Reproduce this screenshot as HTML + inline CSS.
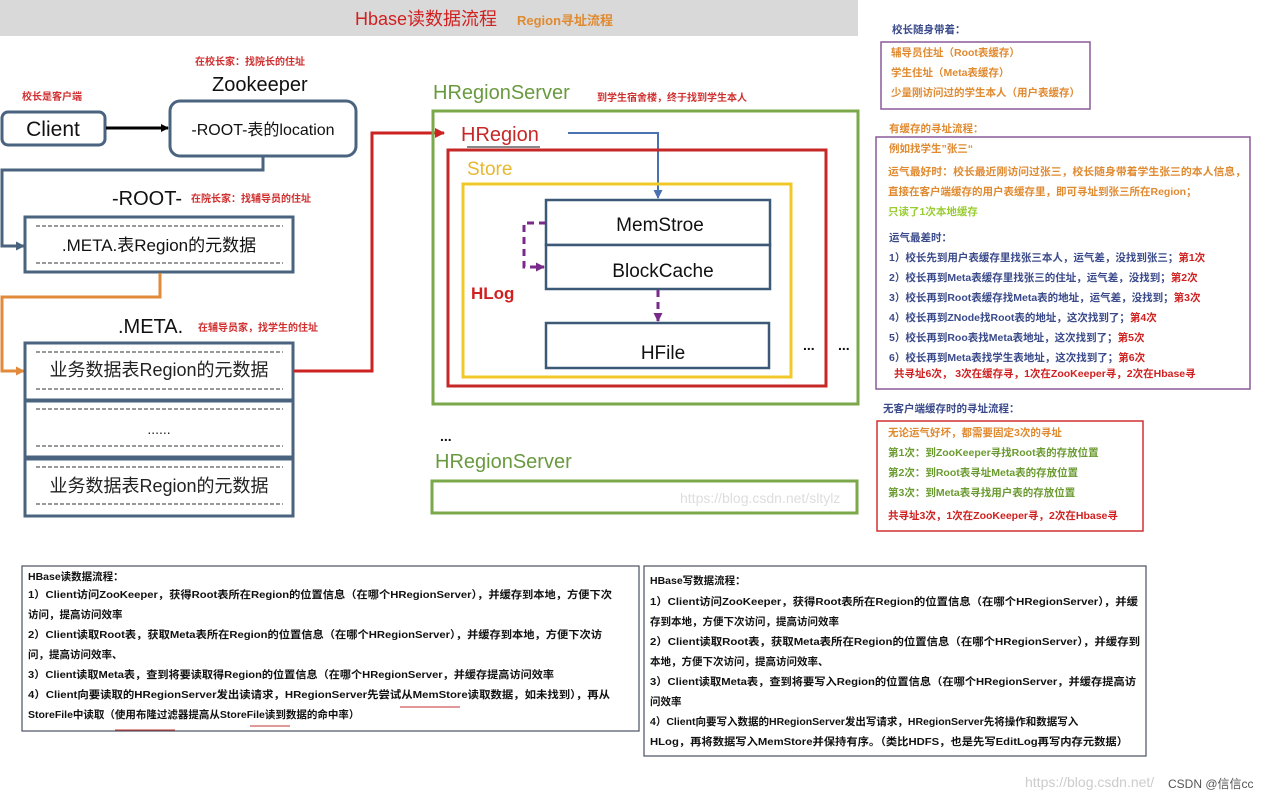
<!DOCTYPE html>
<html><head><meta charset="utf-8"><style>
html,body{margin:0;padding:0;background:#fff;}
svg{display:block;}
text{font-family:"Liberation Sans","Noto Sans CJK SC",sans-serif;}
.cj{font-family:"Liberation Sans","Noto Sans CJK SC",sans-serif;font-weight:bold;}
.big{font-family:"Liberation Sans","Noto Sans CJK SC",sans-serif;}
</style></head><body>
<svg width="1277" height="800" viewBox="0 0 1277 800" xmlns="http://www.w3.org/2000/svg">
<defs>
<marker id="ab" markerWidth="8" markerHeight="8" refX="7" refY="4" orient="auto" markerUnits="userSpaceOnUse"><path d="M0,0 L8,4 L0,8z" fill="#000"/></marker>
<marker id="ag" markerWidth="9" markerHeight="9" refX="8" refY="4.5" orient="auto" markerUnits="userSpaceOnUse"><path d="M0,0 L9,4.5 L0,9z" fill="#4a6480"/></marker>
<marker id="ao" markerWidth="9" markerHeight="9" refX="8" refY="4.5" orient="auto" markerUnits="userSpaceOnUse"><path d="M0,0 L9,4.5 L0,9z" fill="#e08a3a"/></marker>
<marker id="ar" markerWidth="10" markerHeight="10" refX="9" refY="5" orient="auto" markerUnits="userSpaceOnUse"><path d="M0,0 L10,5 L0,10z" fill="#cc2222"/></marker>
<marker id="abl" markerWidth="9" markerHeight="9" refX="8" refY="4.5" orient="auto" markerUnits="userSpaceOnUse"><path d="M0,0 L9,4.5 L0,9z" fill="#4a72b0"/></marker>
<marker id="ap" markerWidth="9" markerHeight="9" refX="8" refY="4.5" orient="auto" markerUnits="userSpaceOnUse"><path d="M0,0 L9,4.5 L0,9z" fill="#7a2a8a"/></marker>
</defs>

<!-- title bar -->
<rect x="0" y="0" width="858" height="36" fill="#d9d9d9"/>
<text x="355" y="25" font-size="18" fill="#d02020" class="big">Hbase读数据流程</text>
<text x="517" y="25" font-size="13" fill="#e08a30" class="cj">Region寻址流程</text>

<!-- left diagram -->
<text x="22" y="100" font-size="10" fill="#d03030" class="cj">校长是客户端</text>
<text x="195" y="65" font-size="10" fill="#d03030" class="cj">在校长家：找院长的住址</text>
<text x="212" y="91" font-size="20" fill="#111">Zookeeper</text>
<rect x="2" y="112" width="103" height="33" rx="6" fill="#fff" stroke="#4a6480" stroke-width="3"/>
<text x="53" y="136" font-size="21" fill="#111" text-anchor="middle">Client</text>
<rect x="170" y="101" width="186" height="55" rx="10" fill="#fff" stroke="#4a6480" stroke-width="3"/>
<text x="263" y="135" font-size="16" fill="#111" text-anchor="middle">-ROOT-表的location</text>
<line x1="106" y1="128" x2="168" y2="128" stroke="#000" stroke-width="3" marker-end="url(#ab)"/>
<polyline points="263,157 263,170 2,170 2,246 24,246" fill="none" stroke="#4a6480" stroke-width="3" marker-end="url(#ag)"/>

<text x="112" y="205" font-size="20" fill="#111">-ROOT-</text>
<text x="191" y="202" font-size="10" fill="#d03030" class="cj">在院长家：找辅导员的住址</text>
<rect x="25" y="217" width="268" height="55" fill="#fff" stroke="#4a6480" stroke-width="3"/>
<line x1="36" y1="226" x2="283" y2="226" stroke="#333" stroke-dasharray="4,2"/>
<line x1="36" y1="263" x2="283" y2="263" stroke="#333" stroke-dasharray="4,2"/>
<text x="159" y="251" font-size="17" fill="#111" text-anchor="middle">.META.表Region的元数据</text>
<polyline points="160,273 160,297 2,297 2,371 24,371" fill="none" stroke="#e08a3a" stroke-width="3" marker-end="url(#ao)"/>

<text x="118" y="333" font-size="20" fill="#111">.META.</text>
<text x="198" y="331" font-size="10" fill="#d03030" class="cj">在辅导员家，找学生的住址</text>
<rect x="25" y="343" width="268" height="57" fill="#fff" stroke="#4a6480" stroke-width="3"/>
<rect x="25" y="401" width="268" height="56" fill="#fff" stroke="#4a6480" stroke-width="3"/>
<rect x="25" y="459" width="268" height="57" fill="#fff" stroke="#4a6480" stroke-width="3"/>
<g stroke="#333" stroke-dasharray="4,2">
<line x1="36" y1="352" x2="283" y2="352"/><line x1="36" y1="389" x2="283" y2="389"/>
<line x1="36" y1="409" x2="283" y2="409"/><line x1="36" y1="446" x2="283" y2="446"/>
<line x1="36" y1="467" x2="283" y2="467"/><line x1="36" y1="504" x2="283" y2="504"/>
</g>
<text x="159" y="376" font-size="18" fill="#222" text-anchor="middle">业务数据表Region的元数据</text>
<text x="159" y="434" font-size="14" fill="#222" text-anchor="middle">......</text>
<text x="159" y="492" font-size="18" fill="#222" text-anchor="middle">业务数据表Region的元数据</text>
<polyline points="294,371 372,371 372,133 444,133" fill="none" stroke="#cc2222" stroke-width="3" marker-end="url(#ar)"/>

<!-- HRegionServer -->
<text x="433" y="99" font-size="20" fill="#6a9a40">HRegionServer</text>
<text x="597" y="101" font-size="10" fill="#d03030" class="cj">到学生宿舍楼，终于找到学生本人</text>
<rect x="433" y="111" width="425" height="293" fill="none" stroke="#7aa84a" stroke-width="3"/>
<text x="461" y="141" font-size="20" fill="#c62828">HRegion</text>
<line x1="467" y1="147" x2="540" y2="147" stroke="#111" stroke-width="1"/>
<polyline points="568,133 658,133 658,198" fill="none" stroke="#4a72b0" stroke-width="2" marker-end="url(#abl)"/>
<rect x="448" y="150" width="378" height="236" fill="none" stroke="#c62828" stroke-width="3"/>
<text x="467" y="175" font-size="19" fill="#e8b830">Store</text>
<rect x="463" y="184" width="328" height="193" fill="none" stroke="#f0c828" stroke-width="3"/>
<rect x="546" y="200" width="224" height="45" fill="#fff" stroke="#3c5a78" stroke-width="2.5"/>
<rect x="546" y="245" width="224" height="44" fill="#fff" stroke="#3c5a78" stroke-width="2.5"/>
<text x="660" y="231" font-size="19" fill="#111" text-anchor="middle">MemStroe</text>
<text x="663" y="277" font-size="19" fill="#111" text-anchor="middle">BlockCache</text>
<rect x="546" y="323" width="223" height="45" fill="#fff" stroke="#3c5a78" stroke-width="2.5"/>
<text x="663" y="359" font-size="19" fill="#111" text-anchor="middle">HFile</text>
<polyline points="546,223 524,223 524,267 544,267" fill="none" stroke="#7a2a8a" stroke-width="3" stroke-dasharray="7,5" marker-end="url(#ap)"/>
<polyline points="658,290 658,321" fill="none" stroke="#7a2a8a" stroke-width="3" stroke-dasharray="7,5" marker-end="url(#ap)"/>
<text x="471" y="299" font-size="17" fill="#d02020" font-weight="bold">HLog</text>
<text x="803" y="350" font-size="14" fill="#111" font-weight="bold">...</text>
<text x="838" y="350" font-size="14" fill="#111" font-weight="bold">...</text>
<text x="440" y="441" font-size="14" fill="#111" font-weight="bold">...</text>
<text x="435" y="468" font-size="20" fill="#6a9a40">HRegionServer</text>
<rect x="432" y="481" width="425" height="32" fill="none" stroke="#7aa84a" stroke-width="3"/>
<text x="680" y="503" font-size="14" fill="#ddd">https://blog.csdn.net/sltylz</text>

<!-- right panel -->
<g class="cj" font-size="10.5">
<text x="892" y="33" fill="#3a4a8a">校长随身带着：</text>
<rect x="881" y="42" width="209" height="67" fill="none" stroke="#8a5a9a" stroke-width="1.5"/>
<text x="891" y="56" fill="#e08a30">辅导员住址（Root表缓存）</text>
<text x="891" y="76" fill="#e08a30">学生住址（Meta表缓存）</text>
<text x="891" y="96" fill="#e08a30">少量刚访问过的学生本人（用户表缓存）</text>
<text x="889" y="132" fill="#e08a30">有缓存的寻址流程：</text>
<rect x="876" y="137" width="374" height="252" fill="none" stroke="#8a5a9a" stroke-width="1.5"/>
<text x="889" y="152" fill="#e08a30">例如找学生”张三“</text>
<text x="888" y="175" fill="#e08a30" textLength="358" lengthAdjust="spacingAndGlyphs">运气最好时：校长最近刚访问过张三，校长随身带着学生张三的本人信息，</text>
<text x="888" y="195" fill="#e08a30">直接在客户端缓存的用户表缓存里，即可寻址到张三所在Region；</text>
<text x="888" y="215" fill="#9acd32">只读了1次本地缓存</text>
<text x="889" y="241" fill="#3a4a8a">运气最差时：</text>
<text x="889" y="261" fill="#3a4a8a">1）校长先到用户表缓存里找张三本人，运气差，没找到张三；<tspan fill="#d02020">第1次</tspan></text>
<text x="889" y="281" fill="#3a4a8a">2）校长再到Meta表缓存里找张三的住址，运气差，没找到；<tspan fill="#d02020">第2次</tspan></text>
<text x="889" y="301" fill="#3a4a8a">3）校长再到Root表缓存找Meta表的地址，运气差，没找到；<tspan fill="#d02020">第3次</tspan></text>
<text x="889" y="321" fill="#3a4a8a">4）校长再到ZNode找Root表的地址，这次找到了；<tspan fill="#d02020">第4次</tspan></text>
<text x="889" y="341" fill="#3a4a8a">5）校长再到Roo表找Meta表地址，这次找到了；<tspan fill="#d02020">第5次</tspan></text>
<text x="889" y="361" fill="#3a4a8a">6）校长再到Meta表找学生表地址，这次找到了；<tspan fill="#d02020">第6次</tspan></text>
<text x="894" y="377" fill="#d02020">共寻址6次， 3次在缓存寻，1次在ZooKeeper寻，2次在Hbase寻</text>
<text x="883" y="412" fill="#3a4a8a">无客户端缓存时的寻址流程：</text>
<rect x="877" y="421" width="266" height="110" fill="none" stroke="#d03030" stroke-width="1.5"/>
<text x="888" y="436" fill="#e08a30">无论运气好坏，都需要固定3次的寻址</text>
<text x="888" y="456" fill="#6a9a30">第1次：到ZooKeeper寻找Root表的存放位置</text>
<text x="888" y="476" fill="#6a9a30">第2次：到Root表寻址Meta表的存放位置</text>
<text x="888" y="496" fill="#6a9a30">第3次：到Meta表寻找用户表的存放位置</text>
<text x="888" y="519" fill="#d02020">共寻址3次，1次在ZooKeeper寻，2次在Hbase寻</text>
</g>

<!-- bottom-left box -->
<rect x="22" y="566" width="617" height="165" fill="#fff" stroke="#4a5060" stroke-width="1.2"/>
<g class="cj" font-size="10.5" fill="#111">
<text x="28" y="580">HBase读数据流程：</text>
<text x="28" y="598" textLength="584" lengthAdjust="spacingAndGlyphs">1）Client访问ZooKeeper，获得Root表所在Region的位置信息（在哪个HRegionServer），并缓存到本地，方便下次</text>
<text x="28" y="618">访问，提高访问效率</text>
<text x="28" y="638" textLength="574" lengthAdjust="spacingAndGlyphs">2）Client读取Root表，获取Meta表所在Region的位置信息（在哪个HRegionServer），并缓存到本地，方便下次访</text>
<text x="28" y="658">问，提高访问效率、</text>
<text x="28" y="678" textLength="526" lengthAdjust="spacingAndGlyphs">3）Client读取Meta表，查到将要读取得Region的位置信息（在哪个HRegionServer，并缓存提高访问效率</text>
<text x="28" y="698" textLength="582" lengthAdjust="spacingAndGlyphs">4）Client向要读取的HRegionServer发出读请求，HRegionServer先尝试从MemStore读取数据，如未找到），再从</text>
<text x="28" y="718">StoreFile中读取（使用布隆过滤器提高从StoreFile读到数据的命中率）</text>
</g>
<line x1="400" y1="707" x2="460" y2="707" stroke="#c03030"/>
<line x1="115" y1="730" x2="175" y2="730" stroke="#c03030"/>
<line x1="250" y1="726" x2="290" y2="726" stroke="#c03030"/>

<!-- bottom-right box -->
<rect x="644" y="566" width="502" height="190" fill="#fff" stroke="#4a5060" stroke-width="1.2"/>
<g class="cj" font-size="10.5" fill="#111">
<text x="650" y="584">HBase写数据流程：</text>
<text x="650" y="605" textLength="488" lengthAdjust="spacingAndGlyphs">1）Client访问ZooKeeper，获得Root表所在Region的位置信息（在哪个HRegionServer），并缓</text>
<text x="650" y="625">存到本地，方便下次访问，提高访问效率</text>
<text x="650" y="645" textLength="490" lengthAdjust="spacingAndGlyphs">2）Client读取Root表，获取Meta表所在Region的位置信息（在哪个HRegionServer），并缓存到</text>
<text x="650" y="665">本地，方便下次访问，提高访问效率、</text>
<text x="650" y="685" textLength="486" lengthAdjust="spacingAndGlyphs">3）Client读取Meta表，查到将要写入Region的位置信息（在哪个HRegionServer，并缓存提高访</text>
<text x="650" y="705">问效率</text>
<text x="650" y="725">4）Client向要写入数据的HRegionServer发出写请求，HRegionServer先将操作和数据写入</text>
<text x="650" y="745" textLength="478" lengthAdjust="spacingAndGlyphs">HLog，再将数据写入MemStore并保持有序。（类比HDFS，也是先写EditLog再写内存元数据）</text>
</g>
<text x="1025" y="787" font-size="14" fill="#ccc">https://blog.csdn.net/</text>
<text x="1168" y="788" font-size="12" fill="#555" class="big">CSDN @信信cc</text>
</svg>
</body></html>
